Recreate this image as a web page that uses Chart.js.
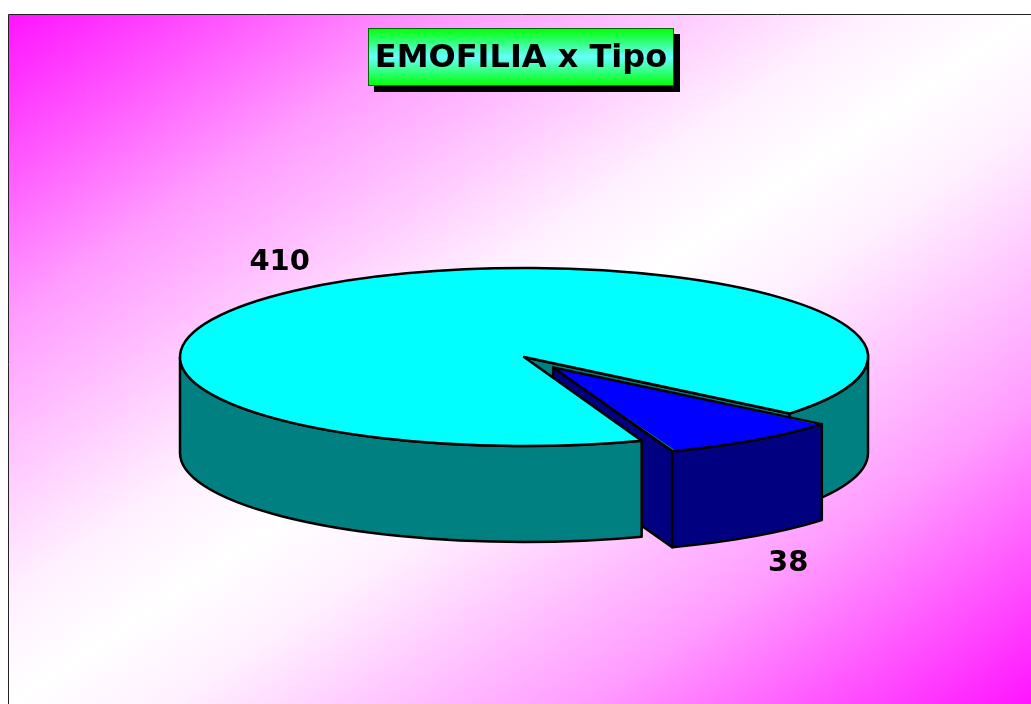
<!DOCTYPE html>
<html><head><meta charset="utf-8">
<script src="https://cdn.jsdelivr.net/npm/chart.js@4"></script>
<style>
html,body{margin:0;padding:0;background:#fff;overflow:hidden;width:1031px;height:704px}
#wrap{position:absolute;left:8px;top:14px;width:1026px;height:700px}
canvas{display:block}
</style></head><body>
<div id="wrap"><canvas id="c" width="1026" height="700"></canvas></div>
<script>
const categories = ["Tipo A", "Tipo B"];
const seriesValues = [410, 38];
const sliceColors = ["#00FFFF", "#0000FF"];
const wallColors = ["#008080", "#000080"];
const sliceOffsets = [0, 146.8];
const titleText = "EMOFILIA x Tipo";

const CX = 516, CY = 343, RXS = [344, 348], RY = 89, DEPTH = 96;
const LW = 2.5;
const F = "'DejaVu Sans', Verdana, sans-serif";

function geom(chart, i) {
  const arc = chart.getDatasetMeta(0).data[i];
  const p = arc.getProps(['x','y','startAngle','endAngle','outerRadius','circumference'], true);
  // Chart.js draws an arc shifted by a quarter of its offset and slightly enlarged
  const off = sliceOffsets[i] / 4;
  const R = p.outerRadius + off * (1 - Math.sin(Math.min(Math.PI, p.circumference)));
  const RX = RXS[i];
  const sx = RX / R, sy = RY / R;
  const mid = (p.startAngle + p.endAngle) / 2;
  const ox = Math.cos(mid) * off, oy = Math.sin(mid) * off;
  return {arc, p, RX, sx, sy, mid, ox, oy, cx: CX + ox * sx, cy: CY + oy * sy,
    pt(a, d) { return [this.cx + Math.cos(a) * RX, this.cy + Math.sin(a) * RY + (d || 0)]; }};
}
function norm(a){ a%=2*Math.PI; return a<0?a+2*Math.PI:a; }
function pen(ctx){ ctx.lineWidth = LW; ctx.strokeStyle = '#000'; ctx.lineJoin = 'round'; }

function drawCut(ctx, chart, i) {
  const g = geom(chart, i); pen(ctx);
  ctx.fillStyle = wallColors[i];
  const cut = (a) => {
    const q = g.pt(a), q2 = g.pt(a, DEPTH);
    ctx.beginPath(); ctx.moveTo(g.cx, g.cy); ctx.lineTo(q[0], q[1]); ctx.lineTo(q2[0], q2[1]);
    ctx.lineTo(g.cx, g.cy + DEPTH); ctx.closePath(); ctx.fill(); ctx.stroke();
  };
  if (Math.cos(g.p.endAngle) > 0) cut(g.p.endAngle);
  if (Math.cos(g.p.startAngle) < 0) cut(g.p.startAngle);
}
function drawRim(ctx, chart, i) {
  const g = geom(chart, i); pen(ctx);
  ctx.fillStyle = wallColors[i];
  const a0 = norm(g.p.startAngle), span = g.p.endAngle - g.p.startAngle;
  [[0, Math.PI], [2*Math.PI, 3*Math.PI]].forEach(([lo, hi]) => {
    const from = Math.max(a0, lo), to = Math.min(a0 + span, hi);
    if (to <= from) return;
    ctx.beginPath();
    ctx.ellipse(g.cx, g.cy, g.RX, RY, 0, from, to);
    ctx.ellipse(g.cx, g.cy + DEPTH, g.RX, RY, 0, to, from, true);
    ctx.closePath(); ctx.fill(); ctx.stroke();
  });
}
function outline(ctx, chart, i) {
  const g = geom(chart, i); pen(ctx);
  ctx.beginPath(); ctx.moveTo(g.cx, g.cy);
  ctx.ellipse(g.cx, g.cy, g.RX, RY, 0, g.p.startAngle, g.p.endAngle);
  ctx.closePath(); ctx.stroke();
}

const box3d = {
  id: 'box3d',
  beforeDraw(chart) {
    const {ctx, width: w, height: h} = chart;
    const W = 1023, H = 690, cx = W / 2 + 1, cy = H / 2 + 1;
    const n = Math.hypot(W, H), L = W * H / n, dx = H / n, dy = W / n;
    const g2 = ctx.createLinearGradient(cx - dx * L, cy - dy * L, cx + dx * L, cy + dy * L);
    g2.addColorStop(0, '#FF14FF'); g2.addColorStop(0.22, '#FF9CFF'); g2.addColorStop(0.42, '#FFF0FF');
    g2.addColorStop(0.5, '#FFFFFF');
    g2.addColorStop(0.58, '#FFF0FF'); g2.addColorStop(0.78, '#FF9CFF'); g2.addColorStop(1, '#FF14FF');
    ctx.fillStyle = g2; ctx.fillRect(1, 1, w, h);
    ctx.strokeStyle = '#222'; ctx.lineWidth = 1;
    ctx.beginPath(); ctx.moveTo(0.5, h); ctx.lineTo(0.5, 0.5); ctx.lineTo(w, 0.5); ctx.stroke();
    const bx = 360, by = 14, bw = 306, bh = 58;
    ctx.fillStyle = '#000'; ctx.fillRect(bx + 6, by + 6, bw, bh);
    const tg = ctx.createLinearGradient(bx, by, bx, by + bh);
    tg.addColorStop(0, '#00FF00'); tg.addColorStop(0.5, '#66FFFF'); tg.addColorStop(1, '#00FF00');
    ctx.fillStyle = tg; ctx.fillRect(bx, by, bw, bh);
    ctx.strokeStyle = '#006600';
    ctx.strokeRect(bx + .5, by + .5, bw - 1, bh - 1);
  },
  beforeDatasetsDraw(chart) {
    const ctx = chart.ctx;
    drawCut(ctx, chart, 0);
    drawCut(ctx, chart, 1);
    drawRim(ctx, chart, 0);
    const g = geom(chart, 0);
    chart.getDatasetMeta(0).data[1].draw = function () {}; // the detached slice is painted later, in front
    ctx.save();
    ctx.translate(CX, CY); ctx.scale(g.sx, g.sy); ctx.translate(-g.p.x, -g.p.y);
  },
  afterDatasetsDraw(chart) {
    const ctx = chart.ctx;
    ctx.restore();
    outline(ctx, chart, 0);
    drawRim(ctx, chart, 1);
    const g = geom(chart, 1);
    ctx.save();
    ctx.translate(CX, CY); ctx.scale(g.sx, g.sy); ctx.translate(-g.p.x, -g.p.y);
    Object.getPrototypeOf(g.arc).draw.call(g.arc, ctx);
    ctx.restore();
    outline(ctx, chart, 1);
    ctx.fillStyle = '#000'; ctx.font = 'bold 29px ' + F;
    ctx.textAlign = 'center'; ctx.textBaseline = 'middle';
    const pos = [[1.23, -5.5], [1.17, DEPTH + 15]];
    seriesValues.forEach((v, i) => {
      const s = geom(chart, i);
      ctx.fillText(String(v),
        s.cx + Math.cos(s.mid) * s.RX * pos[i][0],
        s.cy + Math.sin(s.mid) * RY * pos[i][0] + pos[i][1]);
    });
  }
};

new Chart(document.getElementById('c'), {
  type: 'pie',
  data: { labels: categories, datasets: [{
    data: seriesValues, backgroundColor: sliceColors, borderWidth: 0,
    offset: sliceOffsets, clip: false }] },
  options: {
    responsive: false, animation: false, rotation: 160,
    plugins: {
      legend: { display: false }, tooltip: { enabled: false },
      title: { display: true, text: titleText, color: '#000',
        font: { family: F, weight: 'bold', size: 32 }, padding: { top: 25, bottom: 20 } }
    }
  },
  plugins: [box3d]
});
</script></body></html>
